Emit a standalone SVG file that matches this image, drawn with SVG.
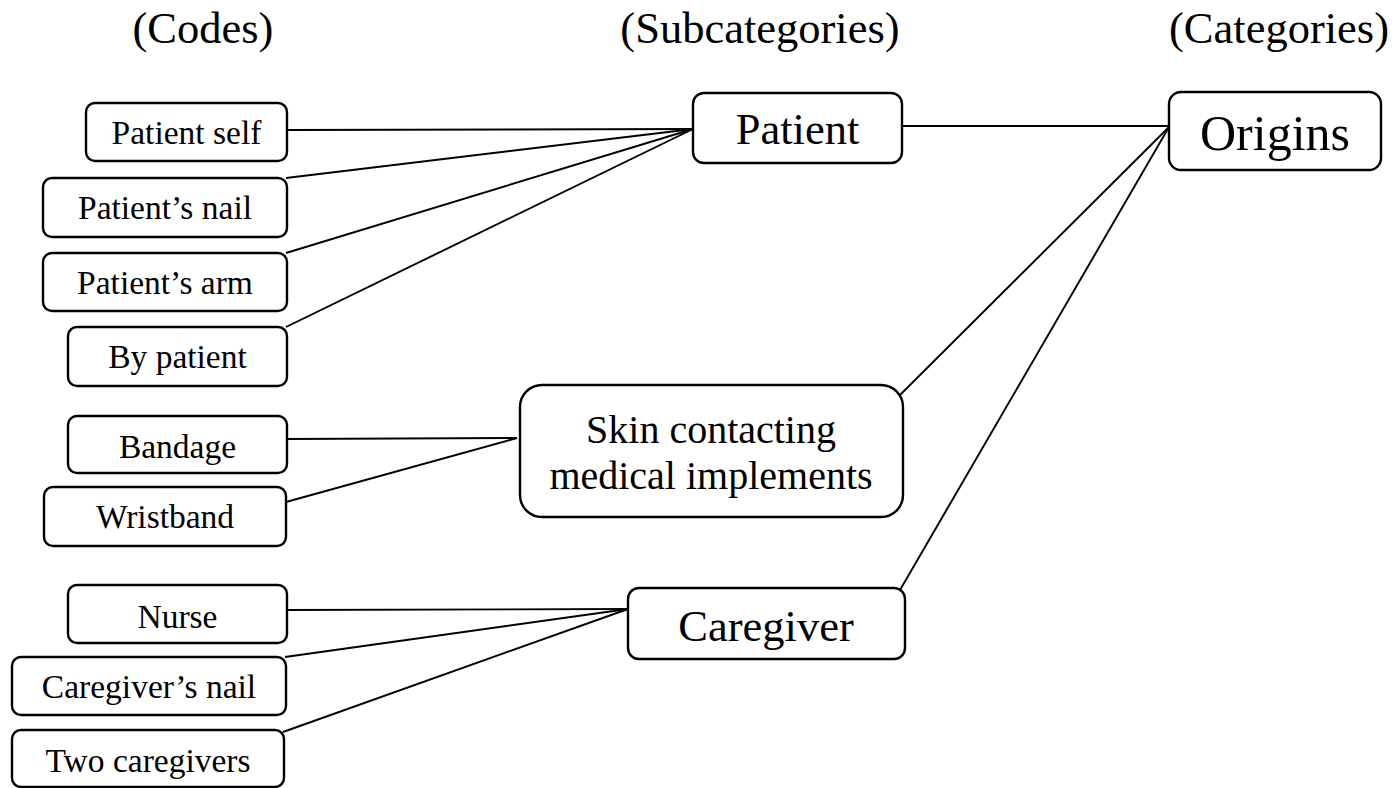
<svg xmlns="http://www.w3.org/2000/svg" width="1397" height="788" viewBox="0 0 1397 788">
  <style>
    .box { fill: #ffffff; stroke: #000000; stroke-width: 2.4; }
    .link { fill: none; stroke: #000000; stroke-width: 1.9; }
    text { font-family: "Liberation Serif", "Times New Roman", serif; fill: #000000; text-anchor: middle; }
    .head { font-size: 44.5px; }
    .code { font-size: 33.5px; }
    .sub { font-size: 44.5px; }
    .skin { font-size: 40px; }
    .cat { font-size: 50px; }
  </style>
  <rect width="1397" height="788" fill="#ffffff"/>

  <!-- column headings -->
  <g id="headings">
    <text class="head" x="203" y="43">(Codes)</text>
    <text class="head" x="760" y="43">(Subcategories)</text>
    <text class="head" x="1279" y="43">(Categories)</text>
  </g>

  <!-- connectors -->
  <g id="connectors">
    <line class="link" x1="287" y1="130" x2="693" y2="129"/>
    <line class="link" x1="286" y1="178" x2="693" y2="129"/>
    <line class="link" x1="286" y1="253" x2="693" y2="129"/>
    <line class="link" x1="286" y1="327" x2="693" y2="129"/>
    <line class="link" x1="287" y1="439" x2="517" y2="438"/>
    <line class="link" x1="286" y1="502" x2="517" y2="438"/>
    <line class="link" x1="287" y1="610" x2="628" y2="609"/>
    <line class="link" x1="285" y1="657" x2="628" y2="609"/>
    <line class="link" x1="283" y1="732" x2="628" y2="609"/>
    <line class="link" x1="902" y1="126" x2="1169" y2="126"/>
    <line class="link" x1="900" y1="395" x2="1169" y2="127"/>
    <line class="link" x1="900" y1="590" x2="1169" y2="127"/>
  </g>

  <!-- codes -->
  <g id="code-patient-self">
    <rect class="box" x="86" y="103" width="201" height="58" rx="9"/>
    <text class="code" x="186.5" y="144">Patient self</text>
  </g>
  <g id="code-patients-nail">
    <rect class="box" x="43" y="178" width="244" height="59" rx="9"/>
    <text class="code" x="165" y="219">Patient’s nail</text>
  </g>
  <g id="code-patients-arm">
    <rect class="box" x="43" y="253" width="244" height="58" rx="9"/>
    <text class="code" x="165" y="294">Patient’s arm</text>
  </g>
  <g id="code-by-patient">
    <rect class="box" x="68" y="327" width="219" height="59" rx="9"/>
    <text class="code" x="177.5" y="368">By patient</text>
  </g>
  <g id="code-bandage">
    <rect class="box" x="68" y="416" width="219" height="57" rx="9"/>
    <text class="code" x="177.5" y="458">Bandage</text>
  </g>
  <g id="code-wristband">
    <rect class="box" x="44" y="487" width="242" height="59" rx="9"/>
    <text class="code" x="165" y="528">Wristband</text>
  </g>
  <g id="code-nurse">
    <rect class="box" x="68" y="585" width="219" height="58" rx="9"/>
    <text class="code" x="177.5" y="628">Nurse</text>
  </g>
  <g id="code-caregivers-nail">
    <rect class="box" x="12" y="657" width="274" height="58" rx="9"/>
    <text class="code" x="149" y="698">Caregiver’s nail</text>
  </g>
  <g id="code-two-caregivers">
    <rect class="box" x="12" y="730" width="272" height="57" rx="9"/>
    <text class="code" x="148" y="772">Two caregivers</text>
  </g>

  <!-- subcategories -->
  <g id="sub-patient">
    <rect class="box" x="693" y="93" width="209" height="70" rx="11"/>
    <text class="sub" x="797.5" y="144">Patient</text>
  </g>
  <g id="sub-skin-contacting">
    <rect class="box" x="520" y="385" width="383" height="132" rx="22"/>
    <text class="skin" x="711" y="443">Skin contacting</text>
    <text class="skin" x="711" y="489">medical implements</text>
  </g>
  <g id="sub-caregiver">
    <rect class="box" x="628" y="588" width="277" height="71" rx="11"/>
    <text class="sub" x="766" y="641">Caregiver</text>
  </g>

  <!-- category -->
  <g id="cat-origins">
    <rect class="box" x="1169" y="92" width="212" height="78" rx="12"/>
    <text class="cat" x="1275" y="150">Origins</text>
  </g>
</svg>
